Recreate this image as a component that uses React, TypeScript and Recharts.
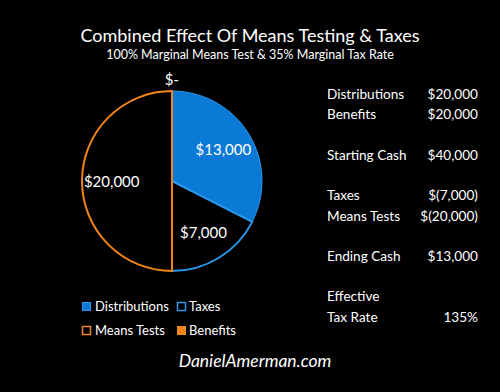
import React from "react";
import { PieChart, Pie, Cell } from "recharts";

const sliceNames = ["Distributions", "Taxes", "Means Tests", "Benefits"];
const sliceValues = [13000, 7000, 20000, 0];
const sliceLabels = ["$13,000", "$7,000", "$20,000", "$-"];

const tableLabels = ["Distributions", "Benefits", "Starting Cash", "Taxes", "Means Tests", "Ending Cash", "Effective", "Tax Rate"];
const tableValues = ["$20,000", "$20,000", "$40,000", "$(7,000)", "$(20,000)", "$13,000", "", "135%"];
const tableRowY = [99, 119, 160, 200, 221, 261, 301, 322];

const BLUE = "#0b79d6";
const BLUE_EDGE = "#2b98ec";
const ORANGE = "#f2851a";
const FONT = "Lato, 'Open Sans', sans-serif";

const fills = [BLUE, "#000", "#000", ORANGE];
const strokes = [BLUE_EDGE, BLUE_EDGE, ORANGE, ORANGE];

const pieData = sliceNames.map((name, i) => ({ name, value: sliceValues[i], label: sliceLabels[i] }));

const RAD = Math.PI / 180;

function renderLabel(props: any) {
  const { cx, cy, midAngle, outerRadius, index } = props;
  const zero = sliceValues[index] === 0;
  const r = zero ? outerRadius + 12 : outerRadius * 0.67;
  const x = cx + r * Math.cos(-midAngle * RAD);
  const y = cy + r * Math.sin(-midAngle * RAD);
  return (
    <text x={x} y={y} fill="#fff" fontSize={15} fontFamily={FONT} textAnchor="middle" dominantBaseline="central">
      {sliceLabels[index]}
    </text>
  );
}

export default function App() {
  return (
    <div style={{ position: "relative", width: 500, height: 392, background: "#000" }}>
      <style>{"body{margin:0;background:#000}"}</style>
      <PieChart width={500} height={392} margin={{ top: 0, right: 0, bottom: 0, left: 0 }}>
        <Pie
          data={pieData}
          dataKey="value"
          nameKey="name"
          cx={172}
          cy={181}
          outerRadius={90}
          startAngle={90}
          endAngle={-270}
          label={renderLabel}
          labelLine={false}
          isAnimationActive={false}
        >
          {pieData.map((d, i) => (
            <Cell key={d.name} fill={fills[i]} stroke={strokes[i]} strokeWidth={i === 0 ? 1 : 2} />
          ))}
        </Pie>
      </PieChart>
      <svg width={500} height={392} style={{ position: "absolute", left: 0, top: 0, pointerEvents: "none" }} fontFamily={FONT} fill="#fff">
        <text x={250} y={42} fontSize={18} textAnchor="middle">Combined Effect Of Means Testing &amp; Taxes</text>
        <text x={250} y={59} fontSize={12.5} textAnchor="middle">100% Marginal Means Test &amp; 35% Marginal Tax Rate</text>

        {tableLabels.map((t, i) => (
          <g key={t}>
            <text x={327} y={tableRowY[i]} fontSize={13.6}>{t}</text>
            <text x={478} y={tableRowY[i]} fontSize={13.6} textAnchor="end">{tableValues[i]}</text>
          </g>
        ))}

        {/* legend */}
        <rect x={82.5} y={302.5} width={8} height={8} fill={BLUE} stroke={BLUE_EDGE} />
        <text x={95} y={311} fontSize={13}>{sliceNames[0]}</text>
        <rect x={177.5} y={302.5} width={8} height={8} fill="none" stroke={BLUE_EDGE} strokeWidth={1.5} />
        <text x={189} y={311} fontSize={13}>{sliceNames[1]}</text>
        <rect x={82.5} y={326.5} width={8} height={8} fill="none" stroke={ORANGE} strokeWidth={1.5} />
        <text x={95} y={335} fontSize={13}>{sliceNames[2]}</text>
        <rect x={177.5} y={326.5} width={8} height={8} fill={ORANGE} stroke={ORANGE} />
        <text x={189} y={335} fontSize={13}>{sliceNames[3]}</text>

        <text x={255} y={367} fontSize={17.5} fontStyle="italic" textAnchor="middle">DanielAmerman.com</text>
      </svg>
    </div>
  );
}
